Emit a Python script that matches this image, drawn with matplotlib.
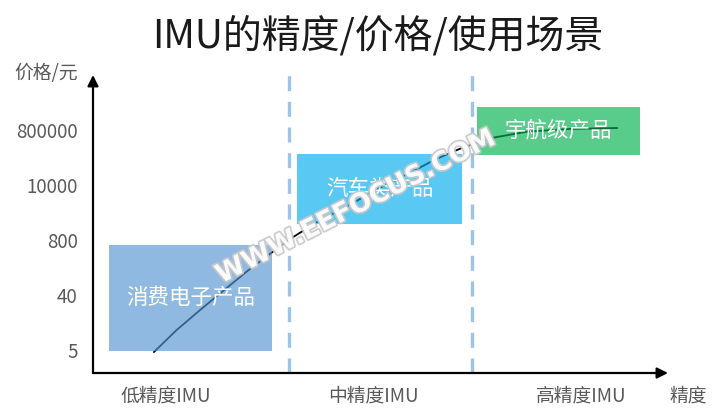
import matplotlib.pyplot as plt
import matplotlib.patheffects as pe
from matplotlib.patches import Rectangle

plt.rcParams['font.family'] = ['Noto Sans CJK SC', 'DejaVu Sans']
plt.rcParams['font.weight'] = 'light'

# categories / tick labels
precision_labels = ['低精度IMU', '中精度IMU', '高精度IMU']
price_labels = ['5', '40', '800', '10000', '800000']

# product boxes: (name, x0, x1, y0, y1, colour) in category units
box_names = ['消费电子产品', '汽车类产品', '宇航级产品']
box_x = [(-0.275, 0.511), (0.631, 1.427), (1.499, 2.284)]
box_y = [(-0.02, 1.91), (2.29, 3.56), (3.545, 4.418)]
box_colors = ['#5394D0', '#00ABEB', '#00AF4D']

# dashed separators between precision classes
separators = [0.593, 1.475]

# price/precision trend curve
curve_x = [-0.058, 0.05, 0.164, 0.28, 0.390, 0.516, 0.598, 0.73, 0.872,
           1.03, 1.190, 1.30, 1.417, 1.499, 1.576, 1.740, 1.95, 2.173]
curve_y = [-0.036, 0.36, 0.727, 1.09, 1.43, 1.79, 2.02, 2.33, 2.61,
           2.95, 3.25, 3.47, 3.66, 3.77, 3.86, 3.97, 4.02, 4.036]

fig = plt.figure(figsize=(7.2, 4.17), dpi=100)
ax = fig.add_axes([93 / 720, 1 - 373 / 417, (668 - 93) / 720, (373 - 75) / 417])
ax.set_xlim(-0.352, 2.419)
ax.set_ylim(-0.418, 5.0)

for s in ax.spines.values():
    s.set_visible(False)

# axes with arrows
arrow = dict(arrowstyle='-|>', lw=1.6, color='black', mutation_scale=16,
             shrinkA=0, shrinkB=0)
ax.annotate('', xy=(1, 0), xytext=(0, 0), xycoords='axes fraction',
            arrowprops=arrow, annotation_clip=False)
ax.annotate('', xy=(0, 1), xytext=(0, 0), xycoords='axes fraction',
            arrowprops=arrow, annotation_clip=False)

for sx in separators:
    ax.plot([sx, sx], [-0.418, 5.0], color='#9DC3E6', lw=2.4,
            dashes=(4.5, 3.2), zorder=1)

ax.plot(curve_x, curve_y, color='black', lw=1.3, zorder=2)

for name, (x0, x1), (y0, y1), c in zip(box_names, box_x, box_y, box_colors):
    ax.add_patch(Rectangle((x0, y0), x1 - x0, y1 - y0, facecolor=c,
                           edgecolor='none', alpha=0.65, zorder=3))
    ax.text((x0 + x1) / 2, (y0 + y1) / 2, name, color='white', fontsize=15.5,
            ha='center', va='center', zorder=5)

ax.set_xticks(range(len(precision_labels)), labels=precision_labels)
ax.set_yticks(range(len(price_labels)), labels=price_labels)
ax.tick_params(length=0, labelsize=13.5, labelcolor='#595959')
ax.tick_params(axis='x', pad=9)
ax.tick_params(axis='y', pad=11)

fig.text(78 / 720, 1 - 73 / 417, '价格/元', ha='right', va='center',
         fontsize=13.5, color='#595959')
fig.text(688 / 720, 1 - 396 / 417, '精度', ha='center', va='center',
         fontsize=13.5, color='#595959')
fig.text(378 / 720, 1 - 36 / 417, 'IMU的精度/价格/使用场景', ha='center',
         va='center', fontsize=28, color='#1a1a1a')

# site watermark
fig.text(356 / 720, 1 - 207 / 417, 'WWW.EEFOCUS.COM', ha='center',
         va='center', fontsize=19, fontweight='bold', color='white',
         rotation=27, family='DejaVu Sans', alpha=0.9, zorder=10,
         path_effects=[pe.withStroke(linewidth=2.5, foreground='#c8c8c8')])

plt.savefig('out.png', dpi=100)
plt.close(fig)
